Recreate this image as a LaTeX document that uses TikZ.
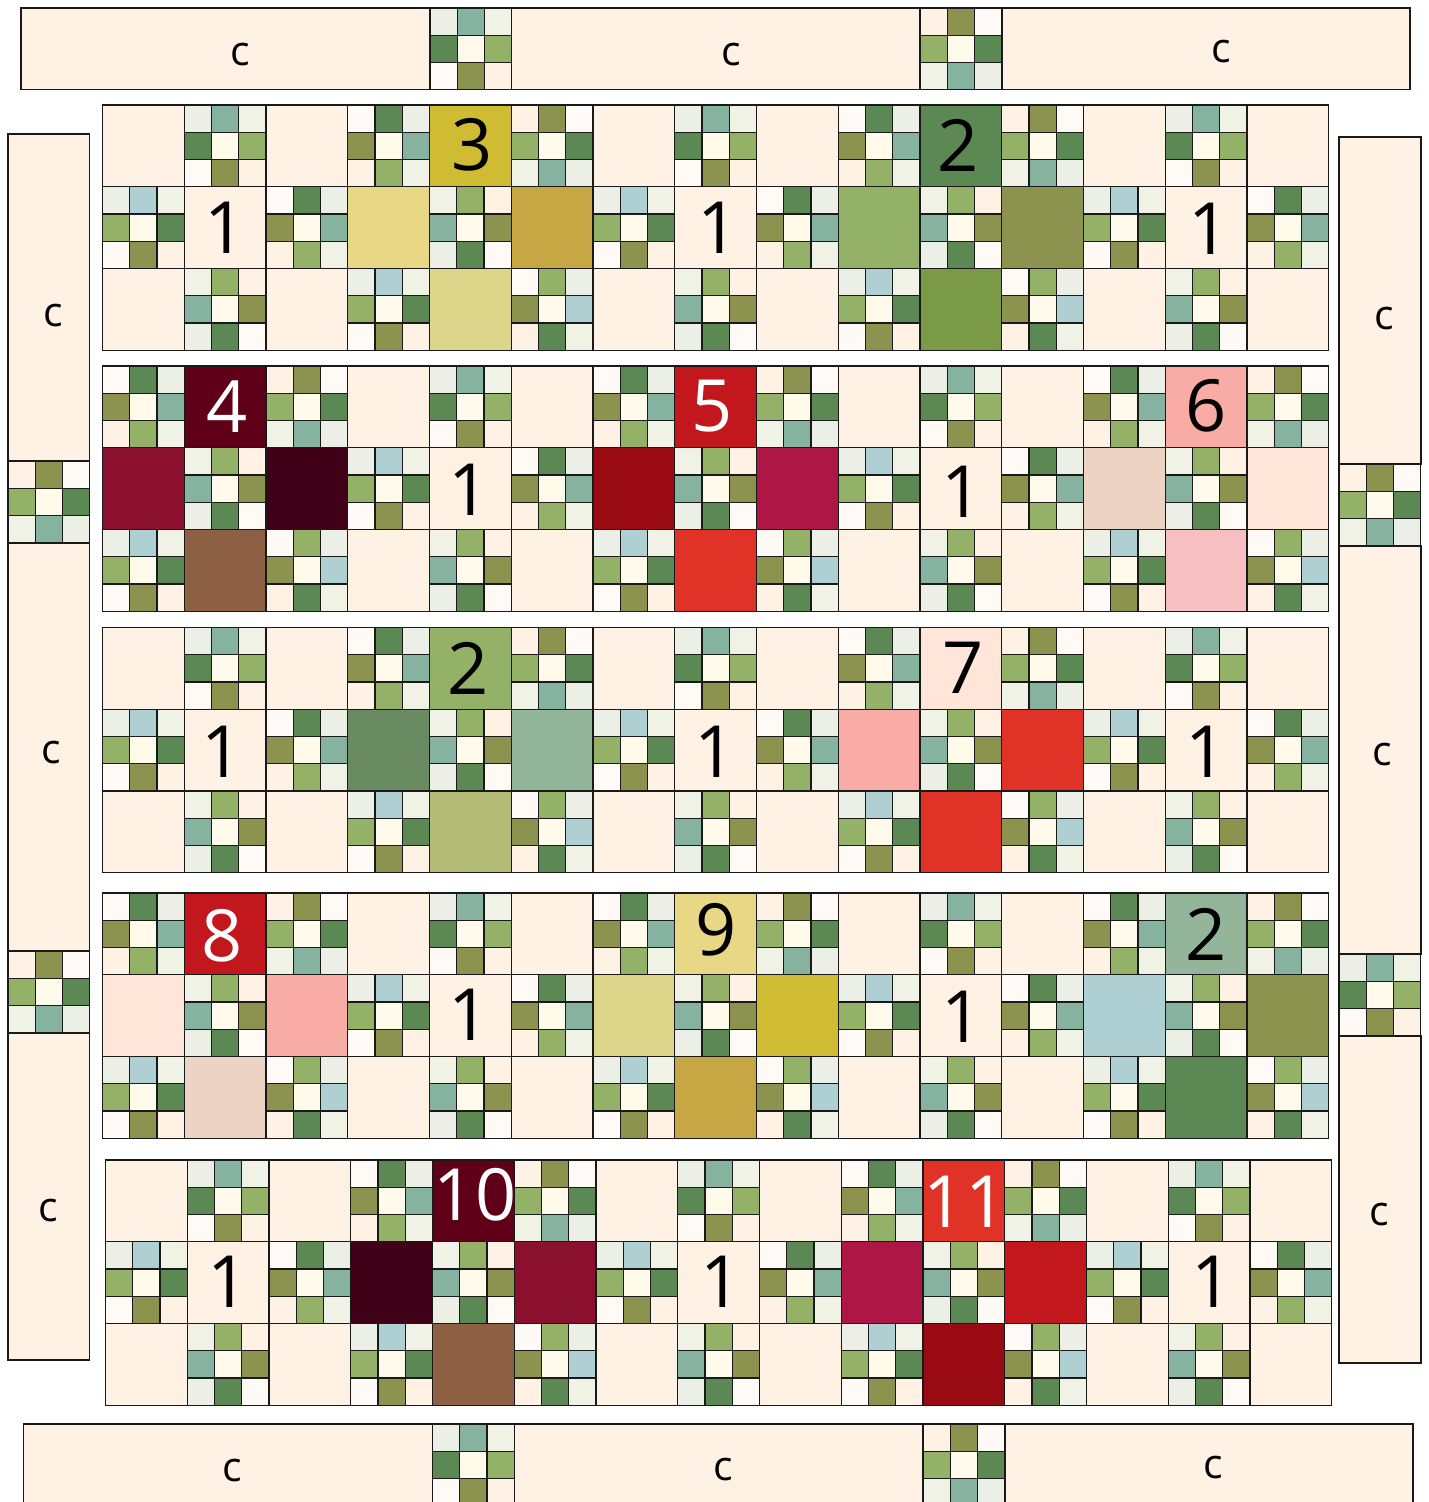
\documentclass[tikz,border=0pt]{standalone}
\usepackage{fontspec}
\setmainfont{Open Sans}
\definecolor{sash}{HTML}{FFF2E4}
\definecolor{sage}{HTML}{EBEFE6}
\definecolor{linen}{HTML}{F1F2E6}
\definecolor{snow}{HTML}{FFFAF6}
\definecolor{ivory}{HTML}{FFFAE9}
\definecolor{sea}{HTML}{86B2A0}
\definecolor{forest}{HTML}{5C8854}
\definecolor{leaf}{HTML}{93B167}
\definecolor{moss}{HTML}{8B934F}
\definecolor{mist}{HTML}{AFD0D2}
\definecolor{gold}{HTML}{D0BC33}
\definecolor{butter}{HTML}{E8D784}
\definecolor{ochre}{HTML}{C7A744}
\definecolor{straw}{HTML}{DDD58A}
\definecolor{fern}{HTML}{7A9A47}
\definecolor{wine}{HTML}{600018}
\definecolor{claret}{HTML}{8A102E}
\definecolor{plum}{HTML}{3F0018}
\definecolor{bark}{HTML}{8E6043}
\definecolor{cherry}{HTML}{C1171D}
\definecolor{ruby}{HTML}{9A0A13}
\definecolor{berry}{HTML}{AE1646}
\definecolor{poppy}{HTML}{E03226}
\definecolor{salmon}{HTML}{F9ABA5}
\definecolor{sand}{HTML}{ECD3C4}
\definecolor{blush}{HTML}{FFE6D9}
\definecolor{rose}{HTML}{F8BFC3}
\definecolor{pine}{HTML}{6A8A62}
\definecolor{celadon}{HTML}{93B59A}
\definecolor{pear}{HTML}{B3BB74}
\tikzset{
  seam/.style={draw=black!90, line width=1.1pt},
  bignum/.style={inner sep=0pt, font=\fontsize{72}{72}\selectfont},
  lett/.style={inner sep=0pt, font=\fontsize{41}{41}\selectfont},
}
\newcommand{\smside}{27.25}
\newcommand{\bigside}{81.75}
% kolory malych kwadratow, wierszami
\newcommand{\patA}{sage,sea,linen,forest,ivory,leaf,snow,moss,sash}
\newcommand{\patB}{snow,forest,sage,moss,ivory,sea,sash,leaf,linen}
\newcommand{\patC}{sash,moss,snow,leaf,ivory,forest,linen,sea,sage}
\newcommand{\patD}{sage,mist,linen,leaf,ivory,forest,snow,moss,sash}
\newcommand{\patF}{linen,leaf,sash,sea,ivory,moss,sage,forest,snow}
\newcommand{\patH}{snow,leaf,sage,moss,ivory,mist,sash,forest,linen}
\newcommand{\ninep}[3]{%
  \edef\nplist{\csname pat#3\endcsname}%
  \foreach \pc [count=\pn from 0] in \nplist
    \draw[seam,fill=\pc] ({#1+mod(\pn,3)*\smside},{#2+floor(\pn/3)*\smside}) rectangle +(\smside,\smside);
}
\newcommand{\bigsq}[3]{\draw[seam,fill=#3] ({#1},{#2}) rectangle +(\bigside,\bigside);}
% blok z kolorowymi kwadratami: x, y, gora, lewo, prawo, dol
\newcommand{\flower}[6]{%
  \ninep{#1}{#2}{B}
  \bigsq{#1+\bigside}{#2}{#3}
  \ninep{#1+2*\bigside}{#2}{C}
  \bigsq{#1}{#2+\bigside}{#4}
  \ninep{#1+\bigside}{#2+\bigside}{F}
  \bigsq{#1+2*\bigside}{#2+\bigside}{#5}
  \ninep{#1}{#2+2*\bigside}{D}
  \bigsq{#1+\bigside}{#2+2*\bigside}{#6}
  \ninep{#1+2*\bigside}{#2+2*\bigside}{H}
}
% blok jasny
\newcommand{\lightblock}[2]{%
  \foreach \ca/\cb in {0/0,2/0,1/1,0/2,2/2} {\bigsq{#1+\ca*\bigside}{#2+\cb*\bigside}{sash}}
  \ninep{#1+\bigside}{#2}{A}
  \ninep{#1}{#2+\bigside}{D}
  \ninep{#1+2*\bigside}{#2+\bigside}{B}
  \ninep{#1+\bigside}{#2+2*\bigside}{F}
}
\begin{document}
\begin{tikzpicture}[x=1pt,y=-1pt]
\useasboundingbox (0,0) rectangle (1429,1502);
\clip (0,0) rectangle (1429,1502);
% pasy poziome
\foreach \xa/\xb in {21/430,511.5/920,1002/1410} \draw[seam,fill=sash] (\xa,8) rectangle (\xb,89.5);
\ninep{430}{8}{A}
\ninep{920}{8}{C}
\foreach \xa/\xb in {23.5/432.5,514/923,1005/1413} \draw[seam,fill=sash] (\xa,1424) rectangle (\xb,1506);
\ninep{432.5}{1424}{A}
\ninep{923}{1424}{C}
% pasy pionowe
\foreach \ya/\yb in {134/461,543/951,1033/1360} \draw[seam,fill=sash] (8,\ya) rectangle (89.5,\yb);
\ninep{8}{461}{C}
\ninep{8}{951}{C}
\foreach \ya/\yb in {137/464,546/954,1036/1363} \draw[seam,fill=sash] (1339,\ya) rectangle (1421,\yb);
\ninep{1339}{464}{C}
\ninep{1339}{954}{A}
% rzad 1
\lightblock{102.5}{105}
\flower{347.75}{105}{gold}{butter}{ochre}{straw}
\lightblock{593}{105}
\flower{838.25}{105}{forest}{leaf}{moss}{fern}
\lightblock{1083.5}{105}
% rzad 2
\flower{102.5}{366}{wine}{claret}{plum}{bark}
\lightblock{347.75}{366}
\flower{593}{366}{cherry}{ruby}{berry}{poppy}
\lightblock{838.25}{366}
\flower{1083.5}{366}{salmon}{sand}{blush}{rose}
% rzad 3
\lightblock{102.5}{627.5}
\flower{347.75}{627.5}{leaf}{pine}{celadon}{pear}
\lightblock{593}{627.5}
\flower{838.25}{627.5}{blush}{salmon}{poppy}{poppy}
\lightblock{1083.5}{627.5}
% rzad 4
\flower{102.5}{893}{cherry}{blush}{salmon}{sand}
\lightblock{347.75}{893}
\flower{593}{893}{butter}{straw}{gold}{ochre}
\lightblock{838.25}{893}
\flower{1083.5}{893}{celadon}{mist}{moss}{forest}
% rzad 5
\lightblock{105.5}{1160}
\flower{350.75}{1160}{wine}{plum}{claret}{bark}
\lightblock{596}{1160}
\flower{841.25}{1160}{poppy}{berry}{cherry}{ruby}
\lightblock{1086.5}{1160}
% numery
\foreach \lx/\ly/\lt/\lc [count=\lk] in {472/145/3/black,958/145/2/black,225/228/1/black,718/228/1/black,1209/229/1/black,
  227/407/4/white,712/406/5/white,1206/406/6/black,469/490/1/black,962/492/1/black,
  468/668/2/black,963/668/7/black,222/752/1/black,715/752/1/black,1206/752/1/black,
  222/936/8/white,716/930/9/black,1206/934/2/black,469/1015/1/black,962/1017/1/black,
  475/1195/10/white,965/1202/11/white,228/1282/1/black,721/1282/1/black,1212/1282/1/black}
  \node[bignum,text=\lc] (n\lk) at (\lx,\ly) {\lt};
% litery
\foreach \lx/\ly [count=\lk] in {240/55,731/55,1221/52,53/316,51/753,48/1211,1384/319,1382/755,1379/1215,232/1471,723/1470,1213/1468}
  \node[lett] (c\lk) at (\lx,\ly) {c};
\end{tikzpicture}
\end{document}
